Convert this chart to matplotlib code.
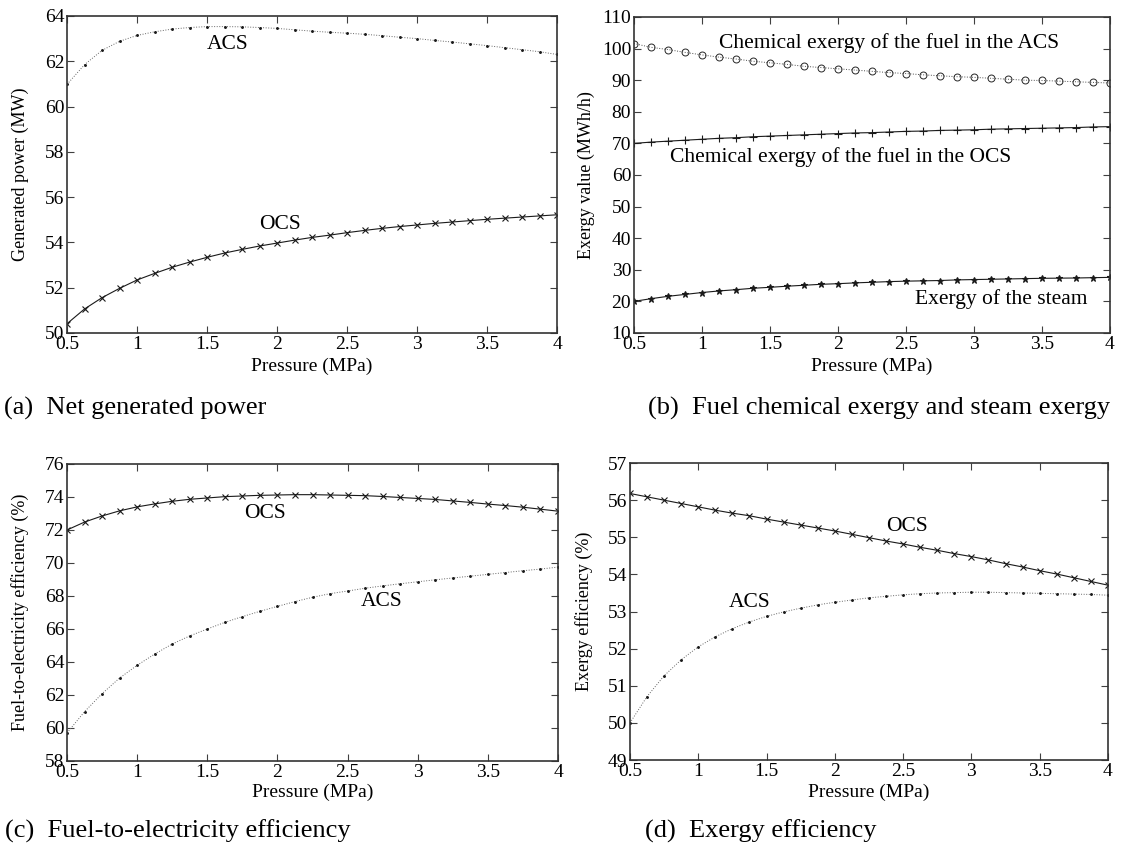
import matplotlib
matplotlib.use("Agg")
import matplotlib.pyplot as plt
from matplotlib.ticker import FuncFormatter

plt.rcParams['font.family'] = ['Liberation Serif', 'DejaVu Serif']

# pressure (MPa), common x for every panel
pressure = [0.5, 0.625, 0.75, 0.875, 1.0, 1.125, 1.25, 1.375, 1.5, 1.625,
            1.75, 1.875, 2.0, 2.125, 2.25, 2.375, 2.5, 2.625, 2.75, 2.875,
            3.0, 3.125, 3.25, 3.375, 3.5, 3.625, 3.75, 3.875, 4.0]

# (a) net generated power (MW)
power_acs = [60.98, 61.85, 62.48, 62.88, 63.14, 63.30, 63.42, 63.49, 63.53, 63.53,
             63.52, 63.49, 63.45, 63.39, 63.33, 63.28, 63.24, 63.19, 63.13, 63.06,
             63.00, 62.92, 62.85, 62.77, 62.69, 62.60, 62.51, 62.42, 62.30]
power_ocs = [50.41, 51.06, 51.56, 51.97, 52.34, 52.63, 52.90, 53.13, 53.34, 53.53,
             53.69, 53.84, 53.97, 54.10, 54.22, 54.32, 54.43, 54.53, 54.62, 54.70,
             54.77, 54.84, 54.90, 54.96, 55.02, 55.07, 55.12, 55.17, 55.22]

# (b) exergy values (MWh/h)
fuel_exergy_acs = [101.6, 100.4, 99.7, 98.8, 98.0, 97.3, 96.7, 96.0, 95.5, 95.0,
                   94.4, 94.0, 93.6, 93.2, 92.8, 92.4, 92.1, 91.7, 91.4, 91.1,
                   90.9, 90.6, 90.3, 90.0, 89.9, 89.7, 89.5, 89.3, 89.1]
fuel_exergy_ocs = [70.0, 70.4, 70.7, 71.0, 71.3, 71.6, 71.8, 72.1, 72.3, 72.5,
                   72.7, 72.9, 73.1, 73.3, 73.4, 73.6, 73.8, 73.9, 74.1, 74.2,
                   74.3, 74.5, 74.6, 74.7, 74.8, 74.9, 75.0, 75.2, 75.3]
steam_exergy = [20.0, 20.85, 21.6, 22.2, 22.8, 23.3, 23.7, 24.15, 24.45, 24.8,
                25.1, 25.4, 25.6, 25.85, 26.05, 26.25, 26.4, 26.5, 26.6, 26.8,
                26.9, 27.0, 27.1, 27.2, 27.3, 27.35, 27.4, 27.5, 27.6]

# (c) fuel-to-electricity efficiency (%)
elec_eff_ocs = [72.0, 72.48, 72.85, 73.16, 73.4, 73.58, 73.74, 73.86, 73.94, 74.02,
                74.06, 74.1, 74.12, 74.14, 74.14, 74.12, 74.1, 74.08, 74.03, 73.97,
                73.91, 73.85, 73.76, 73.67, 73.57, 73.48, 73.38, 73.26, 73.14]
elec_eff_acs = [59.7, 60.99, 62.08, 63.03, 63.8, 64.48, 65.09, 65.58, 66.0, 66.4,
                66.75, 67.07, 67.37, 67.66, 67.92, 68.14, 68.3, 68.47, 68.61, 68.74,
                68.86, 68.98, 69.09, 69.2, 69.31, 69.42, 69.53, 69.63, 69.75]

# (d) exergy efficiency (%)
ex_eff_ocs = [56.18, 56.09, 56.0, 55.91, 55.82, 55.73, 55.65, 55.58, 55.49, 55.41,
              55.33, 55.25, 55.17, 55.08, 54.99, 54.9, 54.82, 54.73, 54.65, 54.56,
              54.48, 54.39, 54.29, 54.2, 54.1, 54.01, 53.91, 53.81, 53.71]
ex_eff_acs = [50.0, 50.71, 51.27, 51.7, 52.05, 52.32, 52.54, 52.72, 52.87, 52.99,
              53.09, 53.18, 53.25, 53.31, 53.37, 53.41, 53.45, 53.48, 53.5, 53.51,
              53.52, 53.52, 53.51, 53.5, 53.49, 53.48, 53.47, 53.46, 53.44]

x_ticks = [0.5, 1, 1.5, 2, 2.5, 3, 3.5, 4]

TICK_FS = 14
LABEL_FS = 14
NOTE_FS = 15.5
CAPTION_FS = 19


def style_axes(ax, ylim, yticks, ylabel, ylabel_x):
    ax.set_xlim(0.5, 4)
    ax.set_ylim(*ylim)
    ax.set_xticks(x_ticks)
    ax.set_yticks(yticks)
    ax.xaxis.set_major_formatter(FuncFormatter(lambda v, p: '%g' % v))
    ax.yaxis.set_major_formatter(FuncFormatter(lambda v, p: '%g' % v))
    ax.tick_params(direction='in', top=True, right=True, length=5, width=0.8,
                   labelsize=TICK_FS, color='0.25')
    ax.tick_params(axis='x', pad=2)
    ax.tick_params(axis='y', pad=2)
    for sp in ax.spines.values():
        sp.set_linewidth(1.2)
        sp.set_color('0.2')
    ax.set_xlabel('Pressure (MPa)', fontsize=LABEL_FS)
    ax.xaxis.set_label_coords(0.5, -0.078)
    ax.set_ylabel(ylabel, fontsize=13)
    ax.yaxis.label.set_va('center')
    ax.yaxis.set_label_coords(ylabel_x, 0.5)


def ocs_line(ax, y, marker='x', ms=4):
    ax.plot(pressure, y, '-', color='0.1', lw=0.8, marker=marker, ms=ms, mew=0.8)


def acs_line(ax, y):
    ax.plot(pressure, y, ':', color='0.4', lw=0.7, marker='.', ms=2.2,
            mfc='0.1', mec='0.1')


fig = plt.figure(figsize=(11.4, 8.49), dpi=100)

# (a)
ax = fig.add_axes([0.0588, 0.6078, 0.4298, 0.3734])
acs_line(ax, power_acs)
ocs_line(ax, power_ocs)
ax.text(1.65, 62.72, 'ACS', fontsize=NOTE_FS, ha='center', va='center')
ax.text(2.02, 54.8, 'OCS', fontsize=NOTE_FS, ha='center', va='center')
style_axes(ax, (50, 64), range(50, 65, 2), 'Generated power (MW)', -0.096)

# (b)
ax = fig.add_axes([0.5561, 0.6078, 0.4175, 0.3722])
ax.plot(pressure, fuel_exergy_acs, ':', color='0.3', lw=0.7, marker='o', ms=5,
        mfc='none', mec='0.15', mew=0.7)
ocs_line(ax, fuel_exergy_ocs, marker='+', ms=6)
ocs_line(ax, steam_exergy, marker='*', ms=5)
ax.text(2.375, 101.9, 'Chemical exergy of the fuel in the ACS', fontsize=NOTE_FS,
        ha='center', va='center')
ax.text(2.02, 65.7, 'Chemical exergy of the fuel in the OCS', fontsize=NOTE_FS,
        ha='center', va='center')
ax.text(3.2, 20.8, 'Exergy of the steam', fontsize=NOTE_FS, ha='center', va='center')
style_axes(ax, (10, 110), range(10, 111, 10), 'Exergy value (MWh/h)', -0.099)

# (c)
ax = fig.add_axes([0.0588, 0.1037, 0.4307, 0.3498])
ocs_line(ax, elec_eff_ocs)
acs_line(ax, elec_eff_acs)
ax.text(1.91, 72.97, 'OCS', fontsize=NOTE_FS, ha='center', va='center')
ax.text(2.74, 67.64, 'ACS', fontsize=NOTE_FS, ha='center', va='center')
style_axes(ax, (58, 76), range(58, 77, 2), 'Fuel-to-electricity efficiency (%)', -0.096)

# (d)
ax = fig.add_axes([0.5526, 0.1048, 0.4193, 0.3498])
ocs_line(ax, ex_eff_ocs)
acs_line(ax, ex_eff_acs)
ax.text(2.53, 55.28, 'OCS', fontsize=NOTE_FS, ha='center', va='center')
ax.text(1.38, 53.25, 'ACS', fontsize=NOTE_FS, ha='center', va='center')
style_axes(ax, (49, 57), range(49, 58), 'Exergy efficiency (%)', -0.096)

# captions
fig.text(4 / 1140, 1 - 408 / 849, '(a)  Net generated power', fontsize=CAPTION_FS, va='center')
fig.text(648 / 1140, 1 - 408 / 849, '(b)  Fuel chemical exergy and steam exergy',
         fontsize=CAPTION_FS, va='center')
fig.text(5 / 1140, 1 - 831 / 849, '(c)  Fuel-to-electricity efficiency', fontsize=CAPTION_FS, va='center')
fig.text(645 / 1140, 1 - 831 / 849, '(d)  Exergy efficiency', fontsize=CAPTION_FS, va='center')

plt.savefig('out.png', dpi=100)
